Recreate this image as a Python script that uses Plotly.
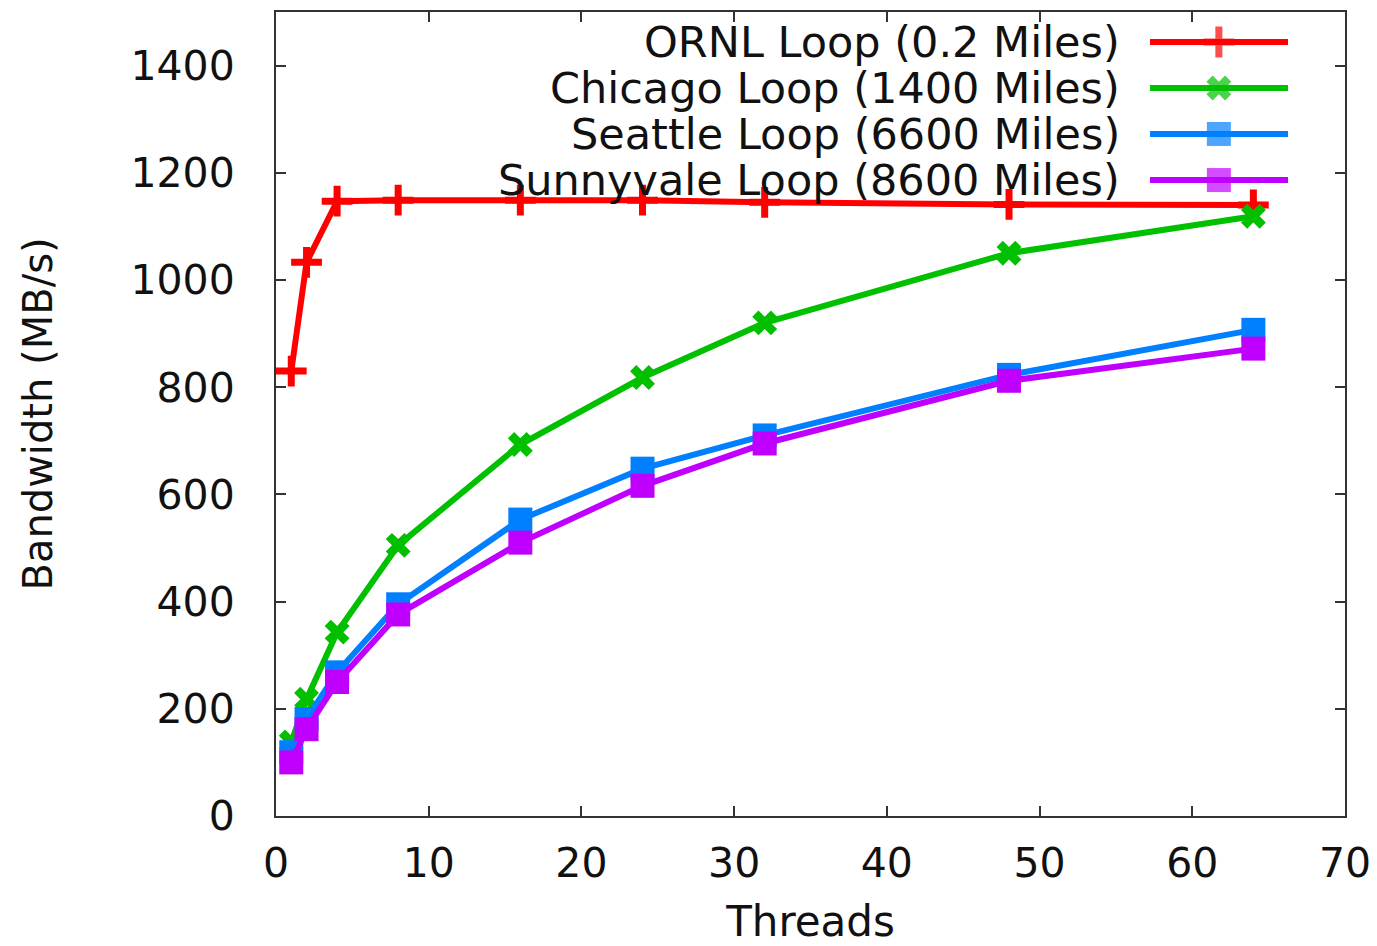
import plotly.graph_objects as go

threads = [1, 2, 4, 8, 16, 24, 32, 48, 64]
ornl = [830, 1033, 1147, 1149, 1149, 1149, 1145, 1141, 1140]
chicago = [138, 218, 343, 505, 693, 818, 920, 1050, 1119]
seattle = [119, 181, 268, 395, 553, 648, 710, 823, 907]
sunnyvale = [100, 162, 250, 376, 510, 616, 695, 812, 872]

names = ["ORNL Loop (0.2 Miles)", "Chicago Loop (1400 Miles)",
         "Seattle Loop (6600 Miles)", "Sunnyvale Loop (8600 Miles)"]
colors = ["#ff0000", "#00c000", "#0080ff", "#c000ff"]
symbols = ["cross-thin-open", "x", "square", "square"]
sizes = [22, 22, 24, 24]
series = [ornl, chicago, seattle, sunnyvale]

FONT = "DejaVu Sans"
fig = go.Figure()

def mline(sym, col):
    return dict(color=col, width=7 if sym.endswith("thin-open") else 0)

for name, col, sym, sz, ys in zip(names, colors, symbols, sizes, series):
    fig.add_trace(go.Scatter(
        x=threads, y=ys, mode="lines+markers", name=name, showlegend=False,
        line=dict(color=col, width=6),
        marker=dict(symbol=sym, size=sz, color=col, line=mline(sym, col)),
    ))

# custom legend (text left of sample) on hidden overlay axes
leg_y = [0.9627, 0.9055, 0.8483, 0.791]
for name, col, sym, sz, ly in zip(names, colors, symbols, sizes, leg_y):
    fig.add_trace(go.Scatter(
        x=[0.8176, 0.882, 0.9467], y=[ly, ly, ly], xaxis="x2", yaxis="y2",
        mode="lines+markers", showlegend=False, hoverinfo="skip",
        line=dict(color=col, width=6),
        marker=dict(symbol=sym, size=[0, sz, 0], color=col, line=mline(sym, col)),
    ))
    fig.add_annotation(x=0.7914, y=ly, xref="paper", yref="paper", text=name,
                       showarrow=False, xanchor="right", yanchor="middle",
                       font=dict(family=FONT, size=43, color="#111111"))

axis_common = dict(
    showline=True, linecolor="#333333", linewidth=2, mirror="ticks",
    ticks="inside", ticklen=10, tickwidth=2, tickcolor="#333333",
    showgrid=False, zeroline=False,
    tickfont=dict(family=FONT, size=41, color="#111111"),
)

fig.update_layout(
    width=1369, height=938,
    paper_bgcolor="white", plot_bgcolor="white",
    margin=dict(l=268, r=32, t=2, b=130),
    xaxis=dict(range=[0, 70], tickvals=[0, 10, 20, 30, 40, 50, 60, 70],
               title=dict(text="Threads", standoff=26,
                          font=dict(family=FONT, size=42, color="#111111")),
               ticklabelstandoff=10, **axis_common),
    yaxis=dict(range=[0, 1500], tickvals=[0, 200, 400, 600, 800, 1000, 1200, 1400],
               title=dict(text="Bandwidth (MB/s)", standoff=65,
                          font=dict(family=FONT, size=40, color="#111111")),
               ticklabelstandoff=31, **axis_common),
    xaxis2=dict(range=[0, 1], overlaying="x", visible=False),
    yaxis2=dict(range=[0, 1], overlaying="y", visible=False),
    showlegend=False,
)

fig.write_html("out.html")
